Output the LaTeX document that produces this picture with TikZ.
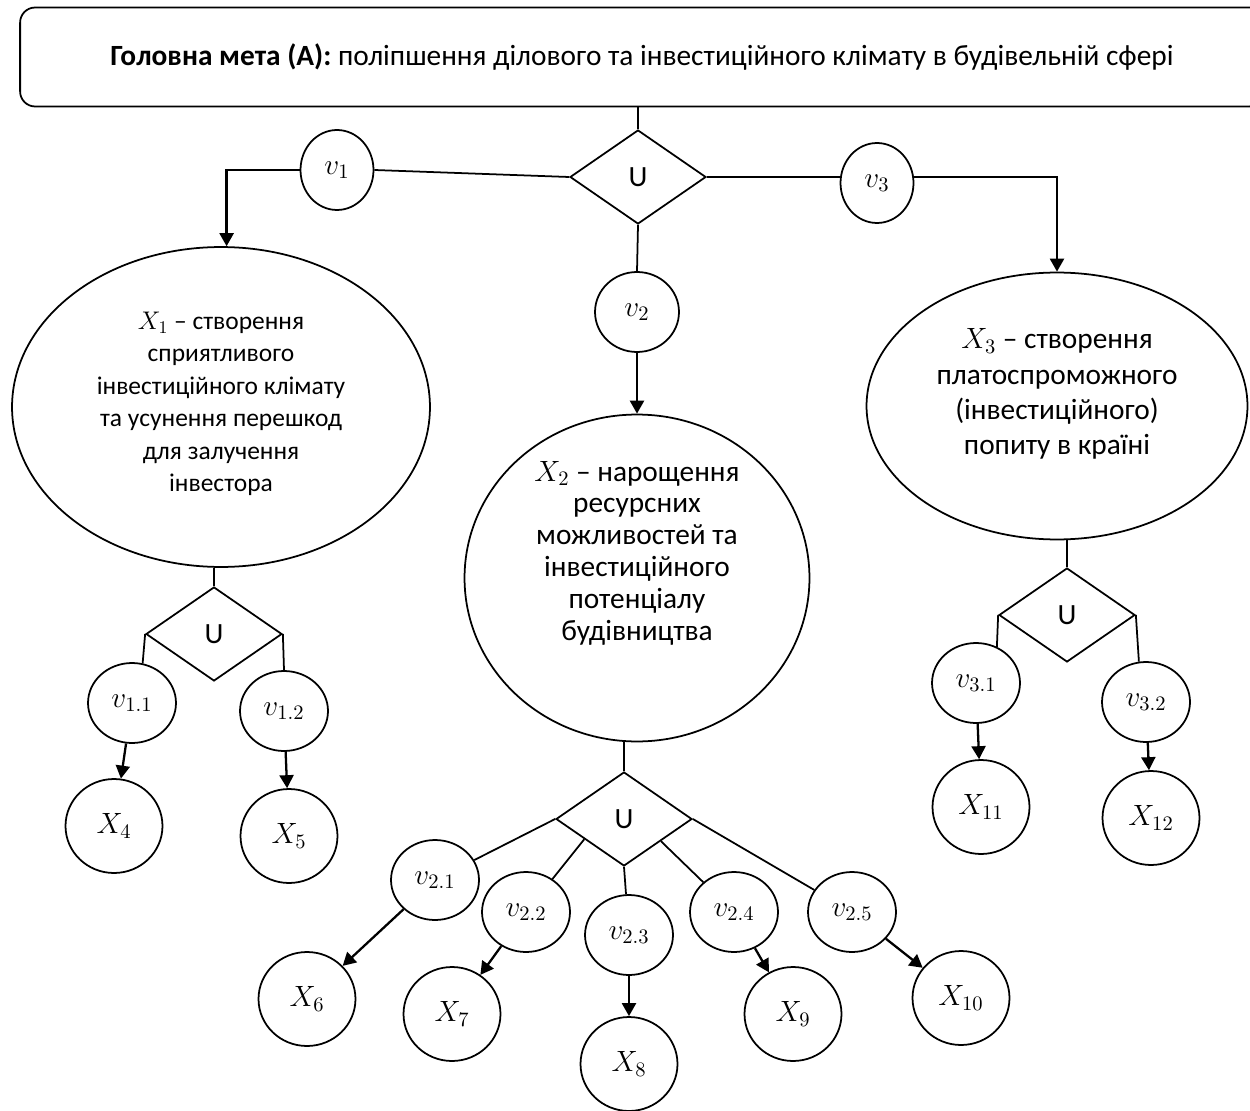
\RequirePackage{fix-cm}
\documentclass[tikz,border=0pt]{standalone}
\usepackage{fontspec}
\setmainfont{Carlito}
\usetikzlibrary{shapes.geometric,arrows.meta}

\begin{document}
\begin{tikzpicture}[x=0.02cm,y=-0.02cm,line width=1pt,
		every node/.style={font=\fontsize{16.7}{20}\selectfont},
		oval/.style={draw,ellipse,inner sep=0pt},
		vnode/.style={oval,minimum width=1.46cm,minimum height=1.6cm},
		subv/.style={oval,minimum width=1.76cm,minimum height=1.6cm},
		leaf/.style={oval,minimum width=1.94cm,minimum height=1.88cm},
		ubox/.style={draw,diamond,inner sep=0pt,minimum width=2.72cm,minimum height=1.88cm},
		arr/.style={-{Triangle[length=0.26cm,width=0.28cm]},line width=1.3pt}]
		\useasboundingbox (0,0) rectangle (1250,1111);

		\node[draw,rounded corners=0.3cm,minimum width=24.88cm,minimum height=1.98cm] (goal) at (642,57) {\textbf{Головна мета (А):} поліпшення ділового та інвестиційного клімату в будівельній сфері};

		\node[ubox] (u0) at (638,177) {U};
		\node[vnode] (v1) at (337,170) {$v_1$};
		\node[vnode,minimum width=1.68cm] (v2) at (637,312) {$v_2$};
		\node[vnode] (v3) at (877,183) {$v_3$};

		\node[oval,minimum width=8.36cm,minimum height=6.4cm] (X1) at (221,407) {};
		\node[align=center,font=\fontsize{14.5}{18.5}\selectfont] (X1t) at (221,404) {$X_1$ -- створення\\сприятливого\\інвестиційного клімату\\та усунення перешкод\\для залучення\\інвестора};
		\node[oval,minimum width=6.9cm,minimum height=6.54cm] (X2) at (637,578) {};
		\node[align=center,font=\fontsize{16.7}{18.1}\selectfont] (X2t) at (637,553) {$X_2$ -- нарощення\\ресурсних\\можливостей та\\інвестиційного\\потенціалу\\будівництва};
		\node[oval,minimum width=7.62cm,minimum height=5.34cm] (X3) at (1057,406) {};
		\node[align=center,font=\fontsize{16.7}{20.1}\selectfont] (X3t) at (1057,394) {$X_3$ -- створення\\платоспроможного\\(інвестиційного)\\попиту в країні};

		\node[ubox] (u1) at (214,634) {U};
		\node[subv] (v11) at (132,703) {$v_{1.1}$};
		\node[subv] (v12) at (284,711) {$v_{1.2}$};
		\node[leaf] (X4) at (114,826) {$X_4$};
		\node[leaf] (X5) at (289,836) {$X_5$};

		\node[ubox] (u2) at (624,819) {U};
		\node[subv] (v21) at (435,880) {$v_{2.1}$};
		\node[subv] (v22) at (526,912) {$v_{2.2}$};
		\node[subv] (v23) at (629,935) {$v_{2.3}$};
		\node[subv] (v24) at (734,912) {$v_{2.4}$};
		\node[subv] (v25) at (852,912) {$v_{2.5}$};
		\node[leaf] (X6) at (307,999) {$X_6$};
		\node[leaf] (X7) at (452,1014) {$X_7$};
		\node[leaf] (X8) at (629,1064) {$X_8$};
		\node[leaf] (X9) at (793,1014) {$X_9$};
		\node[leaf] (X10) at (961,998) {$X_{10}$};

		\node[ubox] (u3) at (1067,615) {U};
		\node[subv] (v31) at (976,683) {$v_{3.1}$};
		\node[subv] (v32) at (1146,702) {$v_{3.2}$};
		\node[leaf] (X11) at (981,807) {$X_{11}$};
		\node[leaf] (X12) at (1151,818) {$X_{12}$};

		\draw (u0.north) -- (u0.north |- goal.south);
		\draw (v1.east) -- (u0.west);
		\draw (u0.east) -- (u0.east -| v3.west);
		\draw (u0.south) -- (v2.north);
		\draw[arr] (v1.west) -| (X1.88);
		\draw[arr] (v3.east |- u0.east) -| (X3.north);
		\draw[arr] (v2) -- (X2);

		\draw (u1.north) -- (u1.north |- X1.south);
		\draw (u1.west) -- (v11.75);
		\draw (u1.east) -- (v12.north);
		\draw[arr] (v11) -- (X4);
		\draw[arr] (v12) -- (X5);

		\draw (u2.north) -- (u2.north |- X2.south);
		\draw (u2.west) -- (v21);
		\draw (u2.207) -- (v22);
		\draw (u2.south) -- (v23);
		\draw (u2.-31) -- (v24);
		\draw (u2.east) -- (v25);
		\draw[arr] (v21) -- (X6);
		\draw[arr] (v22) -- (X7);
		\draw[arr] (v23) -- (X8);
		\draw[arr] (v24) -- (X9);
		\draw[arr] (v25) -- (X10);

		\draw (u3.north) -- (u3.north |- X3.south);
		\draw (u3.west) -- (v31.60);
		\draw (u3.east) -- (v32.100);
		\draw[arr] (v31) -- (X11);
		\draw[arr] (v32) -- (X12);
	\end{tikzpicture}
\end{document}
